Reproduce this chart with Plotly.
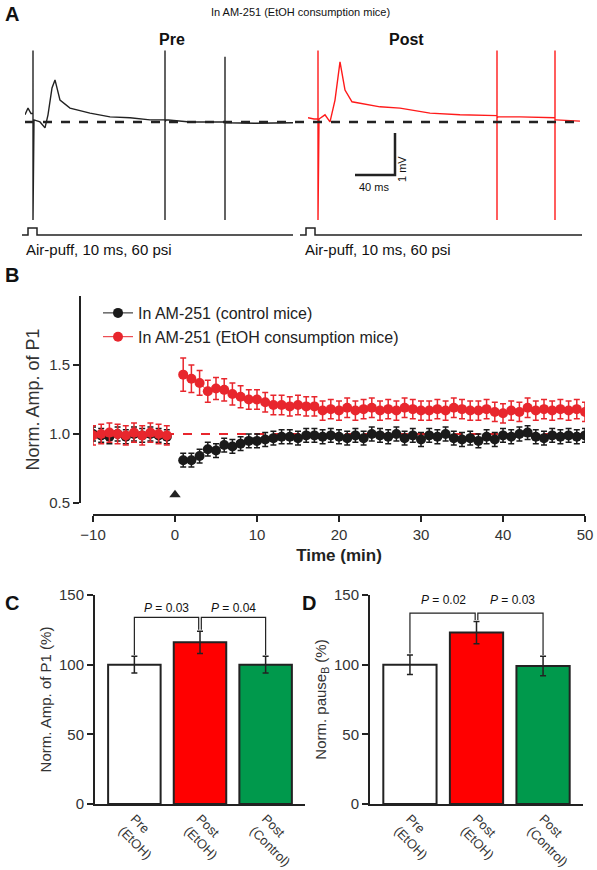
import plotly.graph_objects as go

W, H = 597, 870
FONT = "Liberation Sans, Arial, sans-serif"

# ---- Panel A: hand-read trace key points (ms, mV) ----
pre_t = [0, 3, 6, 8, 8, 8, 9, 15, 20, 23, 27, 30, 35, 45, 65, 85, 105, 125, 140, 140, 140, 140, 141,
         165, 200, 200, 200, 200, 201, 230, 268]
pre_v = [0.17, 0.33, 0.2, 0.2, 1.7, -2.33, 0.05, 0.0, -0.14, 0.17, 0.81, 1.0, 0.52, 0.33, 0.21,
         0.12, 0.1, 0.05, 0.05, 1.7, -2.33, 0.0, 0.05, 0.0, 0.0, 1.55, -2.33, 0.0, -0.02, -0.03, -0.02]
post_t = [0, 6, 10, 10, 10, 11, 17, 22, 27, 32, 37, 44, 52, 72, 92, 122, 152, 189, 189, 189, 189, 190,
          212, 247, 247, 247, 247, 248, 272]
post_v = [0.1, 0.07, 0.07, 1.7, -2.33, 0.07, 0.17, 0.0, 0.52, 1.43, 0.76, 0.48, 0.45, 0.36,
          0.33, 0.21, 0.17, 0.15, 1.7, -2.33, 0.1, 0.12, 0.12, 0.1, 1.7, -2.33, 0.05, 0.05, 0.02]

# ---- Panel B: time course ----
t_pre = [-10, -9, -8, -7, -6, -5, -4, -3, -2, -1]
ctrl_pre = [1.0, 0.99, 0.98, 1.0, 0.98, 1.0, 0.99, 1.0, 0.99, 0.98]
etoh_pre = [0.99, 1.0, 1.01, 1.0, 0.99, 1.01, 0.99, 1.01, 1.0, 0.99]
t_post = list(range(1, 51))
ctrl_post = [0.81, 0.81, 0.84, 0.89, 0.88, 0.92, 0.91, 0.93, 0.95, 0.95,
             0.96, 0.97, 0.98, 0.98, 0.97, 0.99, 0.99, 0.98, 0.99, 0.98,
             0.97, 0.99, 0.97, 1.0, 0.99, 0.98, 1.0, 0.97, 0.99, 0.96,
             0.99, 0.98, 1.0, 0.97, 0.96, 0.97, 0.95, 0.98, 0.96, 0.99,
             0.98, 1.0, 1.01, 0.98, 0.97, 0.99, 0.98, 0.99, 0.98, 0.99]
etoh_post = [1.43, 1.40, 1.37, 1.31, 1.33, 1.32, 1.29, 1.27, 1.25, 1.25,
             1.23, 1.21, 1.21, 1.20, 1.21, 1.20, 1.20, 1.17, 1.18, 1.17,
             1.19, 1.17, 1.18, 1.19, 1.17, 1.18, 1.17, 1.19, 1.18, 1.17,
             1.17, 1.18, 1.17, 1.19, 1.18, 1.17, 1.17, 1.18, 1.16, 1.15,
             1.17, 1.16, 1.19, 1.17, 1.18, 1.17, 1.18, 1.17, 1.18, 1.16]
ctrl_err = [0.05] * 60
etoh_err_post = [0.12, 0.1, 0.09, 0.08, 0.08, 0.08, 0.08, 0.08, 0.07, 0.07] + [0.07] * 40
etoh_err_pre = [0.07] * 10

# ---- Panels C, D ----
bar_cats = ["Pre<br>(EtOH)", "Post<br>(EtOH)", "Post<br>(Control)"]
bar_colors = ["white", "#ff0000", "#00994c"]
amp_vals = [100, 116, 100]
amp_err = [6, 8, 6]
pause_vals = [100, 123, 99]
pause_err = [7, 8, 7]


def py(px):
    return 1 - px / H


def pxx(px):
    return px / W


fig = go.Figure()

# Panel A traces
fig.add_trace(go.Scatter(x=pre_t, y=pre_v, mode="lines", line=dict(color="#222", width=1.4),
                         xaxis="x", yaxis="y", showlegend=False))
fig.add_trace(go.Scatter(x=post_t, y=post_v, mode="lines", line=dict(color="#ff1a1a", width=1.4),
                         xaxis="x2", yaxis="y2", showlegend=False))

# Panel B
fig.add_trace(go.Scatter(x=[-10, 50], y=[1.0, 1.0], mode="lines",
                         line=dict(color="#e8262d", width=2, dash="dash"),
                         xaxis="x3", yaxis="y3", showlegend=False))
for name, vp, ep, vpost, epost, col in [
    ("In AM-251 (control mice)", ctrl_pre, ctrl_err[:10], ctrl_post, ctrl_err[10:], "#1a1a1a"),
    ("In AM-251 (EtOH consumption mice)", etoh_pre, etoh_err_pre, etoh_post, etoh_err_post, "#e8262d"),
]:
    fig.add_trace(go.Scatter(
        x=t_pre + [None] + t_post, y=vp + [None] + vpost, name=name, mode="lines+markers",
        line=dict(color=col, width=1), marker=dict(color=col, size=10),
        error_y=dict(type="data", array=ep + [0] + epost, color=col, thickness=1.5, width=3),
        xaxis="x3", yaxis="y3"))
fig.add_trace(go.Scatter(x=[0], y=[0.56], mode="markers",
                         marker=dict(symbol="triangle-up", size=10, color="#222"),
                         xaxis="x3", yaxis="y3", showlegend=False))

# Panels C and D
for xa, ya, vals, errs in [("x4", "y4", amp_vals, amp_err), ("x5", "y5", pause_vals, pause_err)]:
    fig.add_trace(go.Bar(x=bar_cats, y=vals, width=0.8,
                         marker=dict(color=bar_colors, line=dict(color="#222", width=2)),
                         error_y=dict(type="data", array=errs, color="#222", thickness=1.5, width=3),
                         xaxis=xa, yaxis=ya, showlegend=False))

shapes = []
# dashed baseline across panel A
shapes.append(dict(type="line", xref="paper", yref="paper", x0=pxx(25), x1=pxx(582),
                   y0=py(122), y1=py(122), line=dict(color="#222", width=2.5, dash="dash")))
# air-puff stimulus marks
for x0, x1 in [(22, 293), (300, 582)]:
    shapes.append(dict(type="path", xref="paper", yref="paper",
                       path=f"M {pxx(x0)} {py(235)} L {pxx(x0+6)} {py(235)} L {pxx(x0+6)} {py(228)} "
                            f"L {pxx(x0+15)} {py(228)} L {pxx(x0+15)} {py(235)} L {pxx(x1)} {py(235)}",
                       line=dict(color="#222", width=1.5)))
# scale bar
shapes.append(dict(type="path", xref="paper", yref="paper",
                   path=f"M {pxx(355)} {py(175)} L {pxx(395)} {py(175)} L {pxx(395)} {py(133)}",
                   line=dict(color="#222", width=2.5)))
# brackets C, D (data coords)
for xr, yr, top, legs in [("x4", "y4", 134, (107, 125, 107)), ("x5", "y5", 137, (108, 132, 107))]:
    shapes.append(dict(type="path", xref=xr, yref=yr,
                       path=f"M 0 {legs[0]} L 0 {top} L 0.98 {top} L 0.98 {legs[1]}",
                       line=dict(color="#222", width=1.2)))
    shapes.append(dict(type="path", xref=xr, yref=yr,
                       path=f"M 1.02 {legs[1]} L 1.02 {top} L 2 {top} L 2 {legs[2]}",
                       line=dict(color="#222", width=1.2)))

ann = []


def txt(x, y, s, size=13, bold=False, xanchor="center"):
    ann.append(dict(x=pxx(x), y=py(y), xref="paper", yref="paper", text=f"<b>{s}</b>" if bold else s,
                    showarrow=False, font=dict(size=size, color="#111", family=FONT),
                    xanchor=xanchor, yanchor="middle"))


txt(3, 14, "A", 20, True, "left")
txt(300, 12, "In AM-251 (EtOH consumption mice)", 11)
txt(172, 40, "Pre", 16, True)
txt(406, 40, "Post", 16, True)
txt(24, 250, "Air-puff, 10 ms, 60 psi", 15, False, "left")
txt(303, 250, "Air-puff, 10 ms, 60 psi", 15, False, "left")
txt(374, 187, "40 ms", 11)
ann.append(dict(x=pxx(410), y=py(154), xref="paper", yref="paper", text="1 mV", textangle=-90,
                showarrow=False, font=dict(size=11, color="#111", family=FONT)))
txt(3, 275, "B", 20, True, "left")
txt(3, 603, "C", 20, True, "left")
txt(300, 603, "D", 20, True, "left")
txt(166, 608, "<i>P</i> = 0.03", 12)
txt(233, 608, "<i>P</i> = 0.04", 12)
txt(443, 600, "<i>P</i> = 0.02", 12)
txt(512, 600, "<i>P</i> = 0.03", 12)

axis_common = dict(showline=True, linecolor="#222", linewidth=2, ticks="outside", tickcolor="#222",
                   tickwidth=2, ticklen=6, showgrid=False, zeroline=False, automargin=False,
                   tickfont=dict(size=15, color="#333", family=FONT))
cat_axis = dict(range=[-0.6, 2.6], tickangle=45, ticks="", showline=True, linecolor="#222",
                linewidth=2, automargin=False, tickfont=dict(size=13, color="#333", family=FONT))

fig.update_layout(
    width=W, height=H, margin=dict(l=0, r=0, t=0, b=0, autoexpand=False),
    paper_bgcolor="white", plot_bgcolor="rgba(0,0,0,0)",
    font=dict(family=FONT, color="#222"),
    shapes=shapes, annotations=ann,
    xaxis=dict(domain=[pxx(25), pxx(293)], range=[0, 268], visible=False, automargin=False),
    yaxis=dict(domain=[py(225), py(45)], range=[-2.45, 1.83], visible=False, automargin=False),
    xaxis2=dict(domain=[pxx(308), pxx(580)], range=[0, 272], visible=False, anchor="y2",
                automargin=False),
    yaxis2=dict(domain=[py(225), py(45)], range=[-2.45, 1.83], visible=False, anchor="x2",
                automargin=False),
    xaxis3=dict(domain=[pxx(93), pxx(585)], range=[-10, 50], anchor="free", position=py(515),
                tickvals=[-10, 0, 10, 20, 30, 40, 50],
                title=dict(text="<b>Time (min)</b>", font=dict(size=17, color="#222"), standoff=6),
                **axis_common),
    yaxis3=dict(domain=[py(503), py(296)], range=[0.5, 2.0], anchor="free", position=pxx(80),
                tickvals=[0.5, 1.0, 1.5], ticktext=["0.5", "1.0", "1.5"],
                title=dict(text="Norm. Amp. of P1", font=dict(size=18, color="#333"), standoff=4),
                **axis_common),
    xaxis4=dict(domain=[pxx(95), pxx(305)], anchor="y4", **cat_axis),
    yaxis4=dict(domain=[py(804), py(595)], range=[0, 150], anchor="x4", tickvals=[0, 50, 100, 150],
                title=dict(text="Norm. Amp. of P1 (%)", font=dict(size=15, color="#333"), standoff=4),
                **axis_common),
    xaxis5=dict(domain=[pxx(370), pxx(583)], anchor="y5", **cat_axis),
    yaxis5=dict(domain=[py(804), py(595)], range=[0, 150], anchor="x5", tickvals=[0, 50, 100, 150],
                title=dict(text="Norm. pause<sub>B</sub> (%)", font=dict(size=15, color="#333"), standoff=4),
                **axis_common),
    legend=dict(x=pxx(98), y=py(296), xanchor="left", yanchor="top", bgcolor="rgba(0,0,0,0)",
                font=dict(size=16, color="#222", family=FONT), tracegroupgap=0),
)

fig.write_html("out.html", config={"displayModeBar": False},
               post_script="document.body.style.margin='0';document.body.style.overflow='hidden';")
